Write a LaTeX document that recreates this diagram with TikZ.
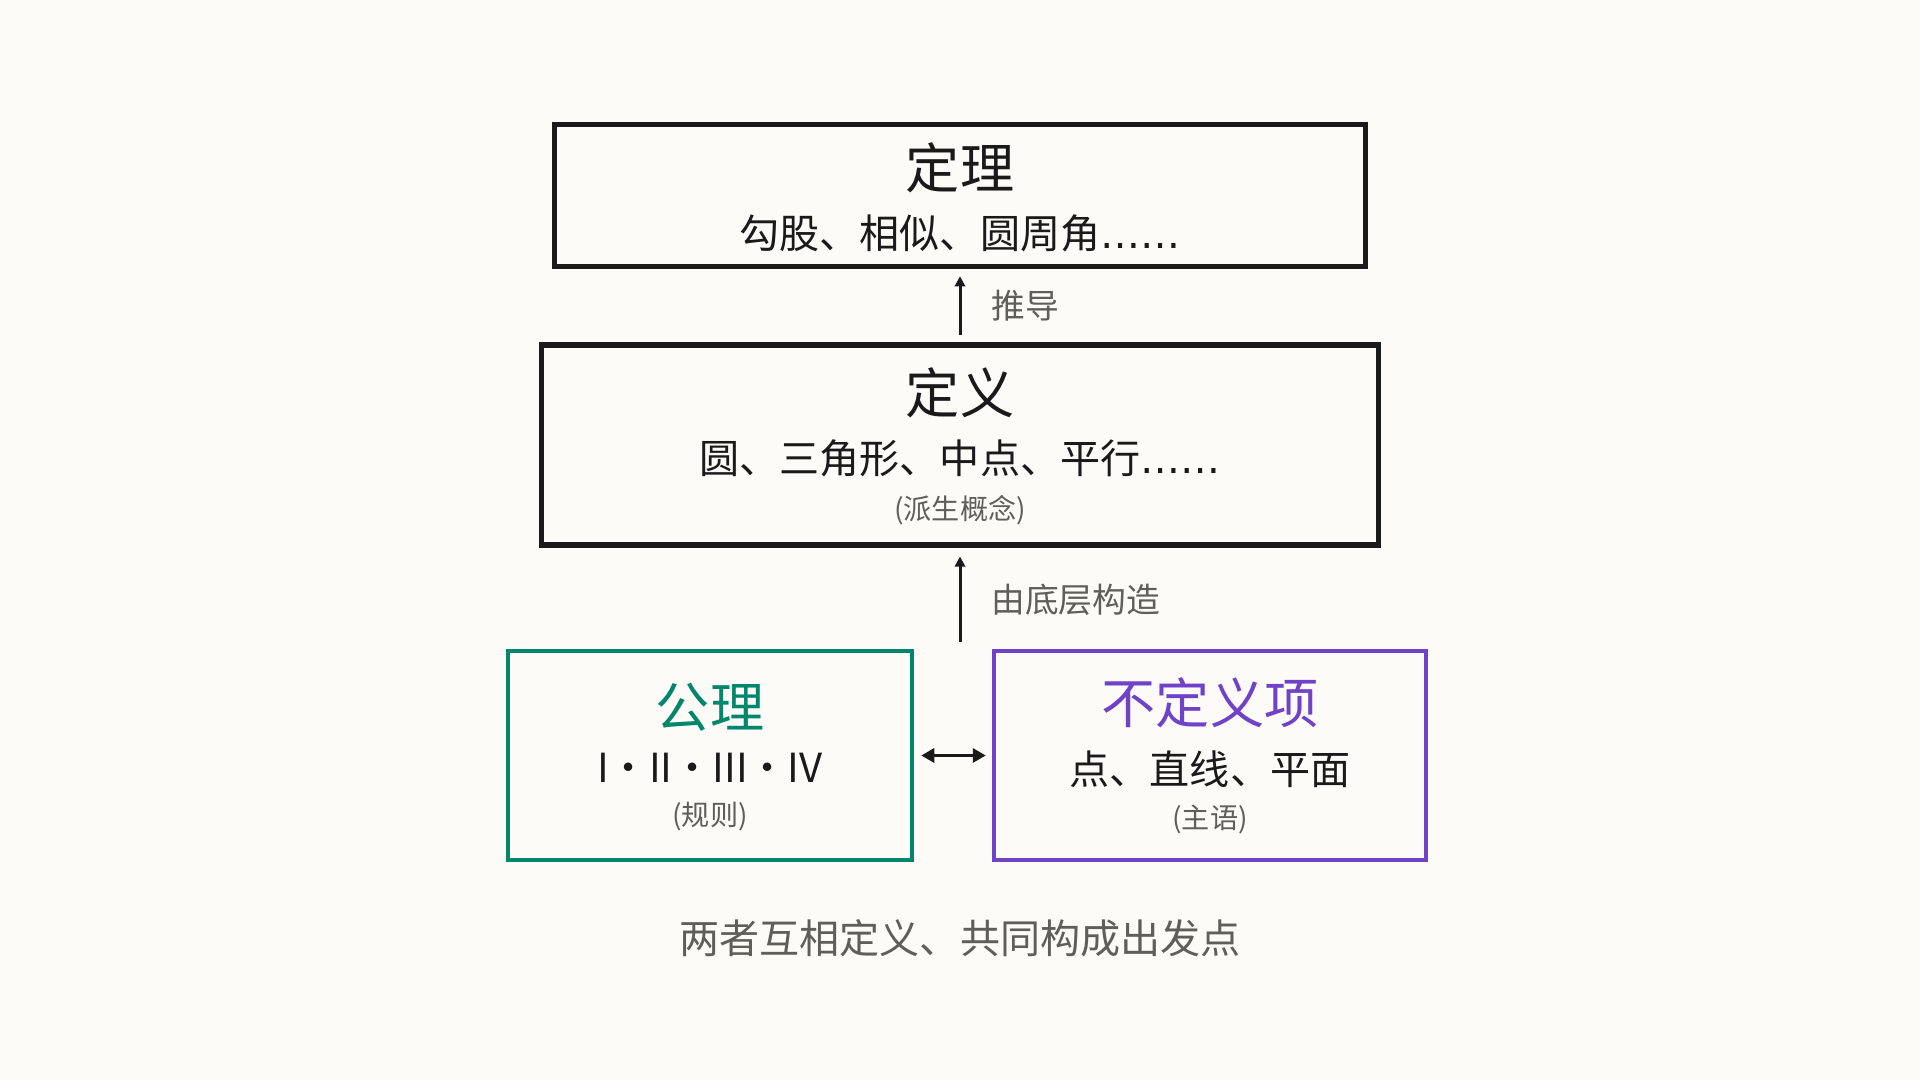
\documentclass[tikz,border=0pt]{standalone}
\usepackage{fontspec}
\setmainfont{Noto Sans CJK SC}
\newfontfamily\latinfont{DejaVu Sans}
\usetikzlibrary{arrows.meta,positioning}
\definecolor{pagebg}{RGB}{252,251,247}
\definecolor{ink}{RGB}{26,26,26}
\definecolor{notegray}{RGB}{95,95,90}
\definecolor{axgreen}{RGB}{0,134,106}
\definecolor{undefpurple}{RGB}{112,66,200}
\tikzset{
  lvlbox/.style={draw=ink, line width=1.5pt},
  basebox/.style={line width=1.2pt, minimum height=2.09cm},
  ttl/.style={font=\fontsize{15.4}{18}\selectfont, text=ink},
  sub/.style={font=\fontsize{11.4}{14}\selectfont, text=ink},
  note/.style={font=\fontsize{8}{10}\selectfont, text=notegray},
  lbl/.style={font=\fontsize{9.6}{12}\selectfont, text=notegray, anchor=west},
  uparr/.style={-{Triangle[length=2.9pt,width=2.9pt]}, ink, line width=0.85pt},
  bothcarr/.style={{Triangle[length=3.7pt,width=4pt]}-{Triangle[length=3.7pt,width=4pt]}, ink, line width=0.85pt},
}

\begin{document}
\begin{tikzpicture}[x=0.01cm, y=-0.01cm]
  \fill[pagebg] (0,0) rectangle (1920,1080);
  % boxes
  \node[lvlbox, minimum width=8.10cm, minimum height=1.42cm] (thmbox) at (960,195.5) {};
  \node[lvlbox, minimum width=8.36cm, minimum height=2.00cm] (defbox) at (960,445) {};
  \node[basebox, draw=axgreen, minimum width=4.04cm] (axbox) at (710,755.5) {};
  \node[basebox, draw=undefpurple, minimum width=4.32cm] (undefbox) at (1210,755.5) {};
  % texts
  \node[ttl] (thmttl) at (960,168) {定理};
  \node[sub] (thmsub) at (960,233) {勾股、相似、圆周角{\latinfont ……}};
  \node[ttl] (defttl) at (960,393) {定义};
  \node[sub] (defsub) at (960,458) {圆、三角形、中点、平行{\latinfont ……}};
  \node[note] (defnote) at (960,510) {(派生概念)};
  \node[ttl, text=axgreen] (axttl) at (710,707) {公理};
  \node[sub] (axsub) at (710,768) {I·II·III·IV};
  \node[note] (axnote) at (710,817) {(规则)};
  \node[ttl, text=undefpurple] (undefttl) at (1210,703) {不定义项};
  \node[sub] (undefsub) at (1210,769) {点、直线、平面};
  \node[note] (undefnote) at (1210,820) {(主语)};
  % connectors
  \draw[uparr, shorten <=2pt, shorten >=2pt] (defbox.north) -- (thmbox.south);
  \node[lbl] (derive) at (979,306) {推导};
  \coordinate (base) at (defbox.south |- axbox.north);
  \draw[uparr, shorten <=2pt, shorten >=2.5pt] (base) -- (defbox.south);
  \node[lbl] (build) at (979,600) {由底层构造};
  \draw[bothcarr, shorten <=2pt, shorten >=1.7pt] (axbox.east) -- (undefbox.west);
  \node[font=\fontsize{11.4}{14}\selectfont, text=notegray] (mutual) at (960,938) {两者互相定义、共同构成出发点};
\end{tikzpicture}
\end{document}
